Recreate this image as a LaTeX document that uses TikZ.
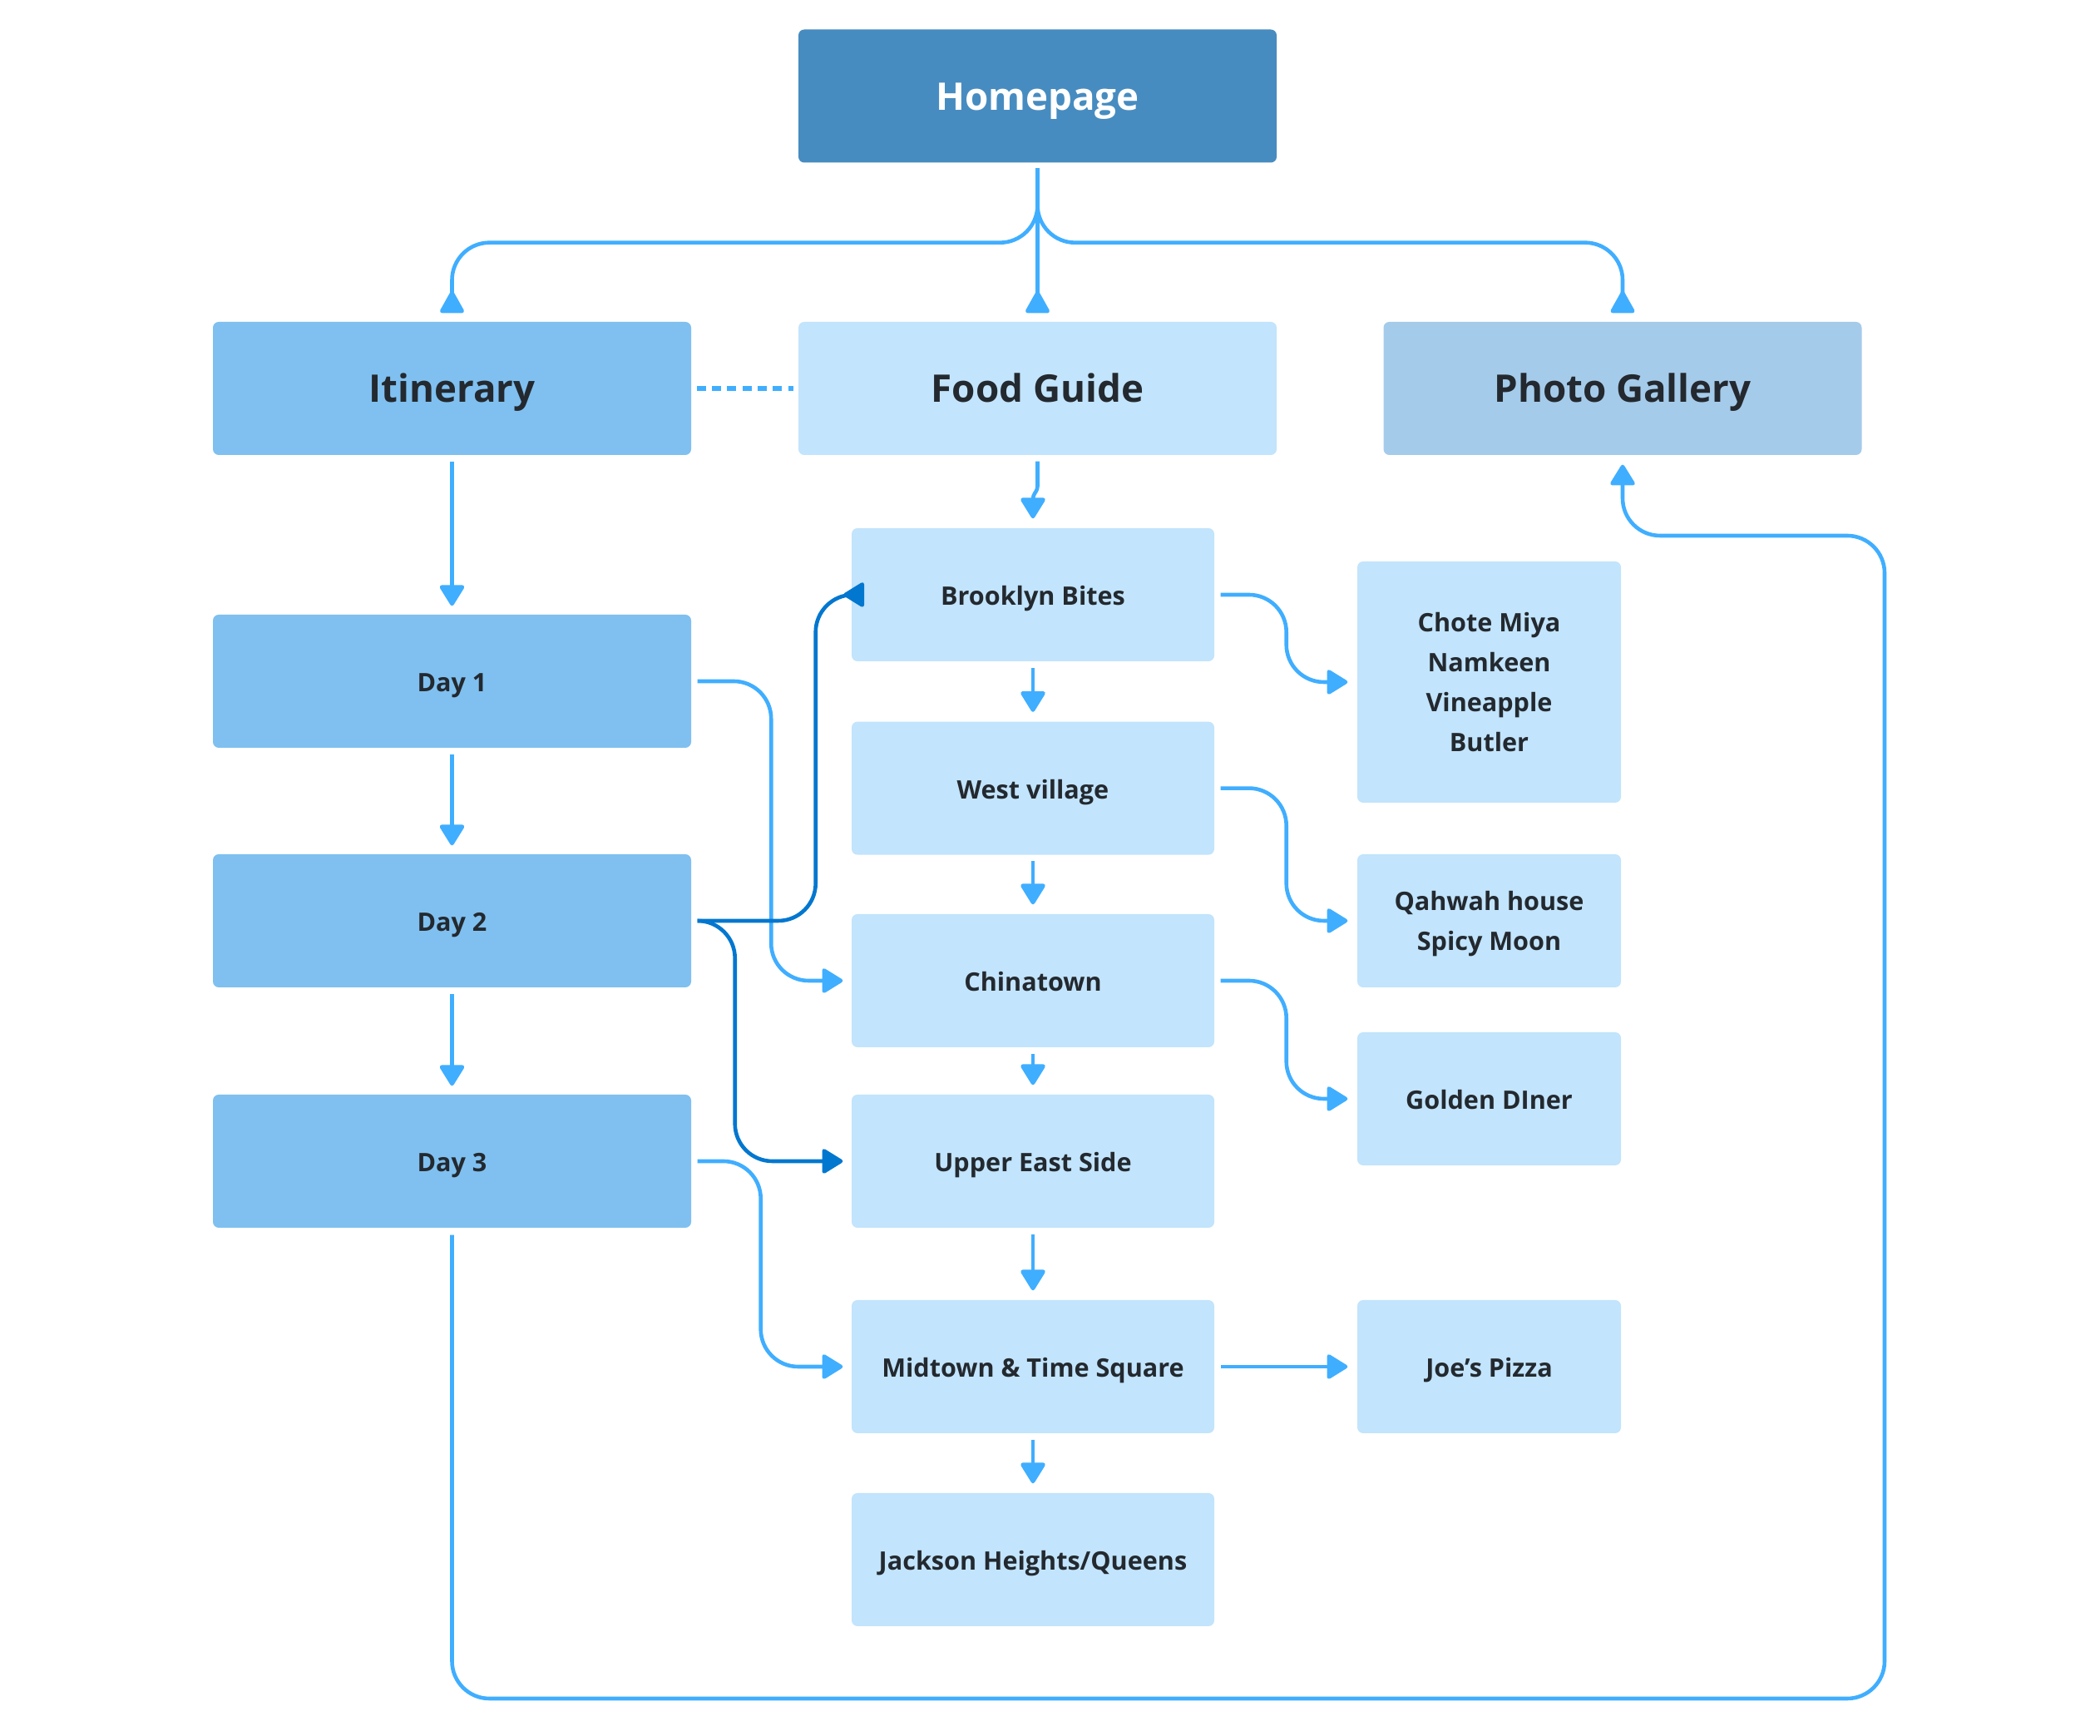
\documentclass[tikz,border=0pt]{standalone}
\usepackage{fontspec}
\setmainfont{Open Sans}
\usetikzlibrary{arrows.meta}
\definecolor{homeblue}{HTML}{478CC0}
\definecolor{dayblue}{HTML}{7FC0F0}
\definecolor{paleblue}{HTML}{C2E4FC}
\definecolor{galleryblue}{HTML}{A5CBEA}
\definecolor{linkblue}{HTML}{40AEFF}
\definecolor{deepblue}{HTML}{0277CF}
\definecolor{inkgray}{HTML}{23292F}
\begin{document}
\begin{tikzpicture}[
  box/.style={rounded corners=0.07cm, inner sep=0pt, align=center, text=inkgray,
    font=\bfseries\fontsize{8.7}{13.6}\selectfont},
  oneline/.style={text height=7.1pt, text depth=0pt},
  bigbox/.style={box, minimum width=5.75cm, minimum height=1.6cm, text height=9.5pt,
    text depth=0pt, font=\bfseries\fontsize{13}{16}\selectfont},
  daybox/.style={box, oneline, fill=dayblue, minimum width=5.75cm, minimum height=1.6cm},
  spot/.style={box, oneline, fill=paleblue, minimum width=4.36cm, minimum height=1.6cm},
  dish/.style={box, fill=paleblue, minimum width=3.17cm, minimum height=1.6cm},
  link/.style={draw=linkblue, line width=0.046cm, rounded corners=0.45cm,
    -{Triangle[round, length=0.27cm, width=0.32cm]}},
  uplink/.style={link, -{Triangle[round, reversed, length=0.29cm, width=0.31cm]}},
  deeplink/.style={link, draw=deepblue},
  dotlink/.style={draw=linkblue, line width=0.06cm, dash pattern=on 0.11cm off 0.073cm}
]
  \useasboundingbox (0,0) rectangle (25.25,20.87);

  % Top level
  \node[bigbox, fill=homeblue, text=white] (home) at (12.475,19.715) {Homepage};
  \node[bigbox, fill=dayblue] (itin) at (5.435,16.2) {Itinerary};
  \node[bigbox, fill=paleblue] (food) at (12.475,16.2) {Food Guide};
  \node[bigbox, fill=galleryblue] (photo) at (19.51,16.2) {Photo Gallery};

  % Days
  \node[daybox] (day1) at (5.435,12.68) {Day 1};
  \node[daybox] (day2) at (5.435,9.80) {Day 2};
  \node[daybox] (day3) at (5.435,6.91) {Day 3};

  % Neighbourhoods
  \node[spot] (brook) at (12.42,13.72) {Brooklyn Bites};
  \node[spot] (west) at (12.42,11.394) {West village};
  \node[spot] (china) at (12.42,9.08) {Chinatown};
  \node[spot] (ues) at (12.42,6.91) {Upper East Side};
  \node[spot] (mid) at (12.42,4.44) {Midtown \& Time Square};
  \node[spot] (jack) at (12.42,2.12) {Jackson Heights/Queens};

  % Places to eat
  \node[dish, minimum height=2.9cm] (chote) at (17.905,12.67) {Chote Miya\\Namkeen\\Vineapple\\Butler};
  \node[dish] (qahwah) at (17.905,9.80) {Qahwah house\\\smash{Spicy Moon}};
  \node[dish, oneline] (golden) at (17.905,7.66) {Golden DIner};
  \node[dish, oneline] (joes) at (17.905,4.44) {Joe’s Pizza};

  % Homepage branches
  \draw[uplink] ([yshift=-0.06cm]home.south) -- ++(0,-0.895) -| ([yshift=0.1cm]itin.north);
  \draw[uplink] ([yshift=-0.06cm]home.south) -- ([yshift=0.1cm]food.north);
  \draw[uplink] ([yshift=-0.06cm]home.south) -- ++(0,-0.895) -| ([yshift=0.1cm]photo.north);
  \draw[dotlink] ([xshift=0.06cm]itin.east) -- ([xshift=-0.05cm]food.west);

  % Itinerary column
  \draw[link] ([yshift=-0.07cm]itin.south) -- ([yshift=0.1cm]day1.north);
  \draw[link] ([yshift=-0.07cm]day1.south) -- ([yshift=0.1cm]day2.north);
  \draw[link] ([yshift=-0.07cm]day2.south) -- ([yshift=0.1cm]day3.north);

  % Food guide column
  \draw[link, rounded corners=0.04cm] ([yshift=-0.07cm]food.south) -- ++(0,-0.34)
    -- ++(-0.055,-0.07) -- ([yshift=0.11cm]brook.north);
  \draw[link] ([yshift=-0.07cm]brook.south) -- ([yshift=0.11cm]west.north);
  \draw[link] ([yshift=-0.07cm]west.south) -- ([yshift=0.11cm]china.north);
  \draw[link] ([yshift=-0.07cm]china.south) -- ([yshift=0.11cm]ues.north);
  \draw[link] ([yshift=-0.07cm]ues.south) -- ([yshift=0.11cm]mid.north);
  \draw[link] ([yshift=-0.07cm]mid.south) -- ([yshift=0.11cm]jack.north);

  % Days to neighbourhoods
  \draw[link] ([xshift=0.07cm]day1.east) -- ++(0.885,0) |- ([xshift=-0.1cm]china.west);
  \draw[deeplink] ([xshift=0.07cm]day2.east) -- ++(1.42,0) |- ([xshift=-0.09cm]brook.west);
  \draw[deeplink] ([xshift=0.07cm]day2.east) -- ++(0.45,0) |- ([xshift=-0.1cm]ues.west);
  \draw[link] ([xshift=0.07cm]day3.east) -- ++(0.76,0) |- ([xshift=-0.1cm]mid.west);

  % Neighbourhoods to places
  \draw[link] ([xshift=0.07cm]brook.east) -- ++(0.79,0) |- ([xshift=-0.11cm]chote.west);
  \draw[link] ([xshift=0.07cm]west.east) -- ++(0.79,0) |- ([xshift=-0.11cm]qahwah.west);
  \draw[link] ([xshift=0.07cm]china.east) -- ++(0.79,0) |- ([xshift=-0.11cm]golden.west);
  \draw[link] ([xshift=0.07cm]mid.east) -- ([xshift=-0.11cm]joes.west);

  % Back to the gallery
  \draw[link] ([yshift=-0.08cm]day3.south) |- (22.66,0.45) |- (19.51,14.43)
    -- ([yshift=-0.11cm]photo.south);
\end{tikzpicture}
\end{document}
